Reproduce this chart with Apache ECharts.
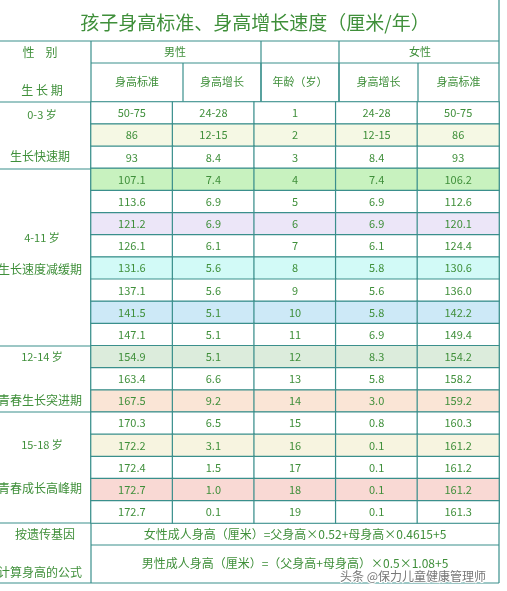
<!DOCTYPE html>
<html><head><meta charset="utf-8">
<script src="https://cdn.jsdelivr.net/npm/echarts@6/dist/echarts.min.js"></script>
<style>html,body{margin:0;padding:0;background:#fff}#main{width:507px;height:591px}</style>
</head><body><div id="main"></div>
<script>
var boyHeight = ['50-75','86','93','107.1','113.6','121.2','126.1','131.6','137.1','141.5','147.1','154.9','163.4','167.5','170.3','172.2','172.4','172.7','172.7'];
var boyGrowth = ['24-28','12-15','8.4','7.4','6.9','6.9','6.1','5.6','5.6','5.1','5.1','5.1','6.6','9.2','6.5','3.1','1.5','1.0','0.1'];
var ages = ['1','2','3','4','5','6','7','8','9','10','11','12','13','14','15','16','17','18','19'];
var girlGrowth = ['24-28','12-15','8.4','7.4','6.9','6.9','6.1','5.8','5.6','5.8','6.9','8.3','5.8','3.0','0.8','0.1','0.1','0.1','0.1'];
var girlHeight = ['50-75','86','93','106.2','112.6','120.1','124.4','130.6','136.0','142.2','149.4','154.2','158.2','159.2','160.3','161.2','161.2','161.2','161.3'];
var rowColors = ['#ffffff','#f5f8e4','#ffffff','#c8f2bf','#ffffff','#ece6f8','#ffffff','#d2faf7','#ffffff','#cde9f7','#ffffff','#dcecdc','#ffffff','#fae5d6','#ffffff','#f7f4e0','#ffffff','#f9d9d4','#ffffff'];
var columnNames = ['身高标准','身高增长','年龄（岁）','身高增长','身高标准'];

var cols = [boyHeight, boyGrowth, ages, girlGrowth, girlHeight];
var cellData = [];
for (var i = 0; i < ages.length; i++) {
  for (var j = 0; j < cols.length; j++) {
    cellData.push({ value: [j, i, 0], itemStyle: { color: rowColors[i] }, text: cols[j][i] });
  }
}

var LINE = '#3a8f8c', TXT = '#3f8f3a', FONT = '"Noto Sans CJK SC", sans-serif';
function hline(x1, x2, y) { return { type: 'line', shape: { x1: x1, y1: y, x2: x2, y2: y }, style: { stroke: LINE, lineWidth: 1.2 } }; }
function vline(x, y1, y2) { return { type: 'line', shape: { x1: x, y1: y1, x2: x, y2: y2 }, style: { stroke: LINE, lineWidth: 1.2 } }; }
function txt(x, y, s, size, align) { return { type: 'text', x: x, y: y, style: { text: s, fill: TXT, font: (size || 11) + 'px ' + FONT, align: align || 'center', verticalAlign: 'middle' } }; }

var colX = [91, 183, 261, 339, 418, 499];
var graphics = [
  hline(0, 499, 41), hline(91, 499, 63), hline(0, 499, 102), hline(0, 91, 169), hline(0, 91, 346),
  hline(0, 91, 412), hline(0, 499, 523), hline(91, 499, 545), hline(0, 499, 583),
  vline(499, 0, 583), vline(91, 41, 583), vline(261, 41, 102), vline(339, 41, 102),
  txt(40, 52, '性    别', 12), txt(42, 90, '生 长 期', 12),
  txt(175, 52, '男性', 11), txt(420, 52, '女性', 11),
  txt(42, 115, '0-3 岁'), txt(40, 156, '生长快速期', 12),
  txt(42, 238, '4-11 岁'), txt(40, 269, '生长速度减缓期', 12),
  txt(42, 357, '12-14 岁'), txt(40, 400, '青春生长突进期', 12),
  txt(42, 445, '15-18 岁'), txt(40, 488, '青春成长高峰期', 12),
  txt(45, 534, '按遗传基因', 12), txt(40, 572, '计算身高的公式', 12),
  txt(295, 534, '女性成人身高（厘米）=父身高×0.52+母身高×0.4615+5', 12),
  txt(295, 563, '男性成人身高（厘米）=（父身高+母身高）×0.5×1.08+5', 12),
  { type: 'text', x: 340, y: 576, style: { text: '头条 @保力儿童健康管理师', fill: '#777', font: '12px ' + FONT, verticalAlign: 'middle', stroke: '#fff', lineWidth: 2 } }
];
for (var k = 0; k < columnNames.length; k++) {
  graphics.push(txt((colX[k] + colX[k + 1]) / 2, 82, columnNames[k], 11));
  if (k > 0) graphics.push(vline(colX[k], 63, 102));
}

var chart = echarts.init(document.getElementById('main'));
chart.setOption({
  animation: false,
  title: { text: '孩子身高标准、身高增长速度（厘米/年）', left: 250, top: 8, textAlign: 'center',
    textStyle: { color: TXT, fontSize: 19, fontWeight: 'normal', fontFamily: FONT } },
  grid: { left: 91, top: 102, width: 408, height: 421 },
  xAxis: { type: 'category', data: columnNames, show: false },
  yAxis: { type: 'category', data: ages, inverse: true, show: false },
  series: [{
    type: 'heatmap', data: cellData,
    itemStyle: { borderColor: LINE, borderWidth: 1.2 },
    label: { show: true, color: TXT, fontSize: 11, fontFamily: FONT,
      formatter: function (p) { return p.data.text; } },
    emphasis: { disabled: true }
  }],
  graphic: graphics
});
</script></body></html>
